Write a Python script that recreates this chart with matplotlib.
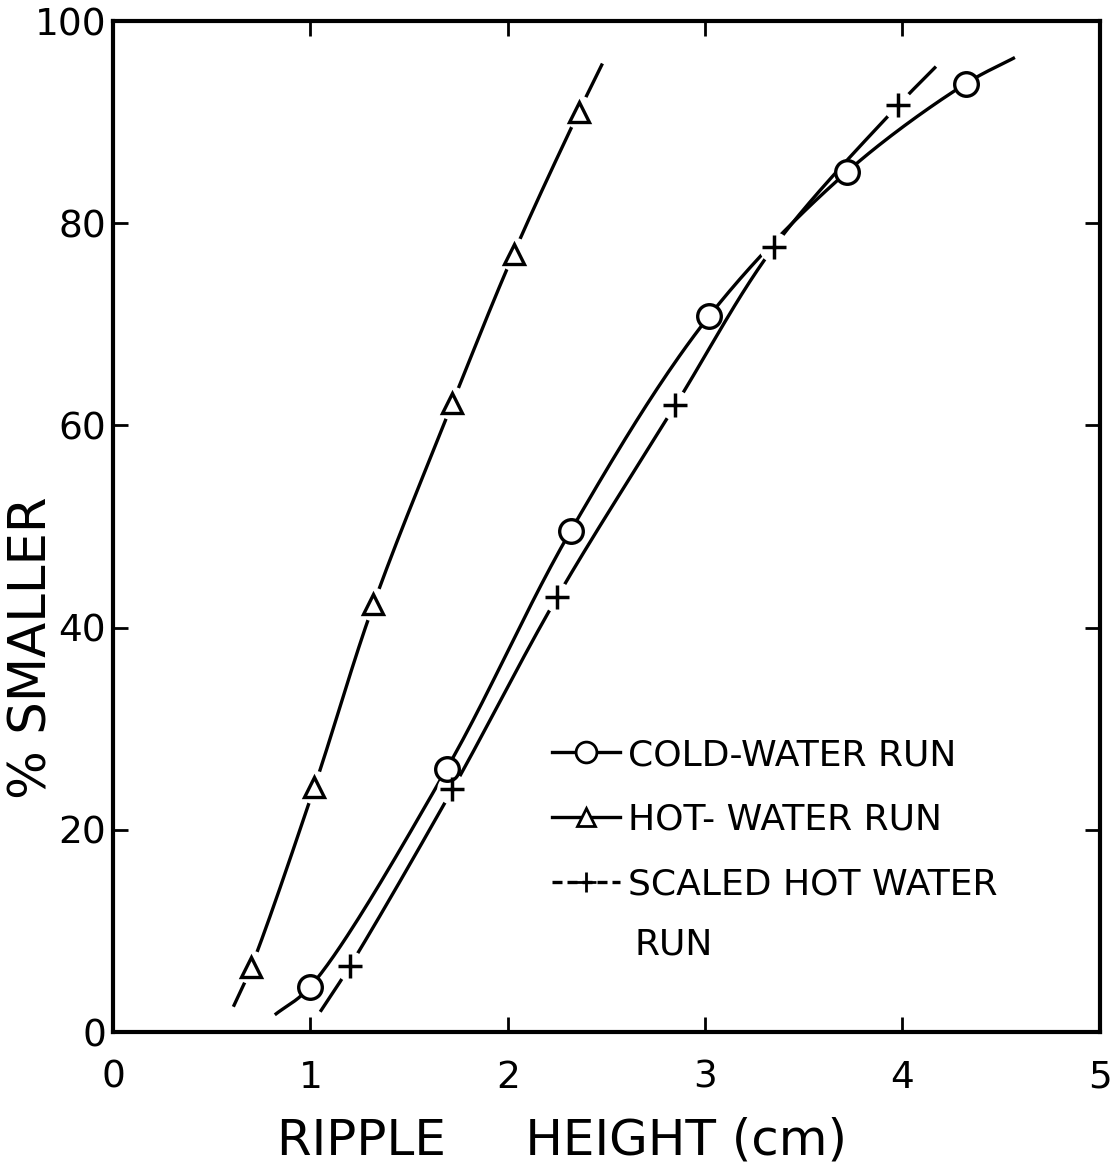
import numpy as np
import matplotlib.pyplot as plt
from matplotlib.lines import Line2D

# --- data ---
cold_x = [1.00, 1.69, 2.32, 3.02, 3.72, 4.32]
cold_y = [4.5, 26.0, 49.6, 70.8, 85.1, 93.8]

hot_x = [0.70, 1.02, 1.32, 1.72, 2.03, 2.36]
hot_y = [6.4, 24.2, 42.3, 62.2, 77.0, 91.0]

scaled_x = [1.20, 1.72, 2.25, 2.85, 3.35, 3.98]
scaled_y = [6.5, 24.0, 43.0, 62.0, 77.7, 91.7]

# hand-drawn curve ends (beyond the points)
cold_ends = [(0.82, 1.7), (4.57, 96.4)]
hot_ends = [(0.61, 2.5), (2.48, 95.8)]
scaled_ends = [(1.05, 2.0), (4.17, 95.5)]

labels = ["COLD-WATER RUN", "HOT- WATER RUN", "SCALED HOT WATER"]


def smooth(xs, ys, ends, n=40):
    # centripetal Catmull-Rom through the points (x, y scaled to similar units)
    px = np.array([ends[0][0]] + list(xs) + [ends[1][0]])
    py = np.array([ends[0][1]] + list(ys) + [ends[1][1]]) / 19.5
    P = np.column_stack([px, py])
    P = np.vstack([2 * P[0] - P[1], P, 2 * P[-1] - P[-2]])
    out = []
    for i in range(1, len(P) - 2):
        p0, p1, p2, p3 = P[i - 1], P[i], P[i + 1], P[i + 2]
        t0 = 0.0
        t1 = t0 + np.linalg.norm(p1 - p0) ** 0.5
        t2 = t1 + np.linalg.norm(p2 - p1) ** 0.5
        t3 = t2 + np.linalg.norm(p3 - p2) ** 0.5
        t = np.linspace(t1, t2, n)[:, None]
        a1 = (t1 - t) / (t1 - t0) * p0 + (t - t0) / (t1 - t0) * p1
        a2 = (t2 - t) / (t2 - t1) * p1 + (t - t1) / (t2 - t1) * p2
        a3 = (t3 - t) / (t3 - t2) * p2 + (t - t2) / (t3 - t2) * p3
        b1 = (t2 - t) / (t2 - t0) * a1 + (t - t0) / (t2 - t0) * a2
        b2 = (t3 - t) / (t3 - t1) * a2 + (t - t1) / (t3 - t1) * a3
        out.append((t2 - t) / (t2 - t1) * b1 + (t - t1) / (t2 - t1) * b2)
    out = np.vstack(out)
    return out[:, 0], out[:, 1] * 19.5


plt.rcParams['font.family'] = ['DejaVu Sans']
fig = plt.figure(figsize=(11.12, 11.71), dpi=100)
ax = fig.add_axes([0.1016, 0.1187, 0.8874, 0.8633])

lw = 2.4
for xs, ys, ends in [(cold_x, cold_y, cold_ends), (hot_x, hot_y, hot_ends),
                     (scaled_x, scaled_y, scaled_ends)]:
    sx, sy = smooth(xs, ys, ends)
    ax.plot(sx, sy, color='black', lw=lw, solid_capstyle='butt', zorder=2)

# white gaps around the open triangles and crosses
ax.plot(hot_x, hot_y, 'o', ms=24, color='white', mec='none', zorder=3)
ax.plot(scaled_x, scaled_y, 'o', ms=22, color='white', mec='none', zorder=3)

ax.plot(cold_x, cold_y, 'o', ms=17, mfc='white', mec='black', mew=2.4, zorder=4)
ax.plot(hot_x, hot_y, '^', ms=14, mfc='white', mec='black', mew=2.4, zorder=4)
ax.plot(scaled_x, scaled_y, '+', ms=17, mec='black', mew=2.5, zorder=4)

ax.set_xlim(0, 5)
ax.set_ylim(0, 100)
ax.set_xticks([0, 1, 2, 3, 4, 5])
ax.set_yticks([0, 20, 40, 60, 80, 100])
ax.tick_params(direction='in', length=11, width=2, top=True, right=True,
               labelsize=27, pad=5)
ax.tick_params(axis='x', pad=20)
for s in ax.spines.values():
    s.set_linewidth(3)

fig.text(0.505, 0.026, "RIPPLE     HEIGHT (cm)", ha='center', va='center', fontsize=36)
fig.text(0.029, 0.447, "% SMALLER", rotation=90, ha='center', va='center', fontsize=37)

handles = [
    Line2D([], [], color='black', lw=lw, marker='o', ms=15, mfc='white', mec='black', mew=2),
    Line2D([], [], color='black', lw=lw, marker='^', ms=13, mfc='white', mec='black', mew=2),
    Line2D([], [], color='black', lw=lw, ls=(0, (3, 1.5)), marker='+', ms=15, mec='black', mew=2),
]
ax.legend(handles, labels, loc='upper left', bbox_to_anchor=(0.43, 0.305), frameon=False,
          fontsize=26, handlelength=1.9, handletextpad=0.2, labelspacing=0.85,
          borderaxespad=0)
ax.text(0.528, 0.087, "RUN", transform=ax.transAxes, fontsize=26, ha='left', va='center')

fig.savefig('out.png', dpi=100)
